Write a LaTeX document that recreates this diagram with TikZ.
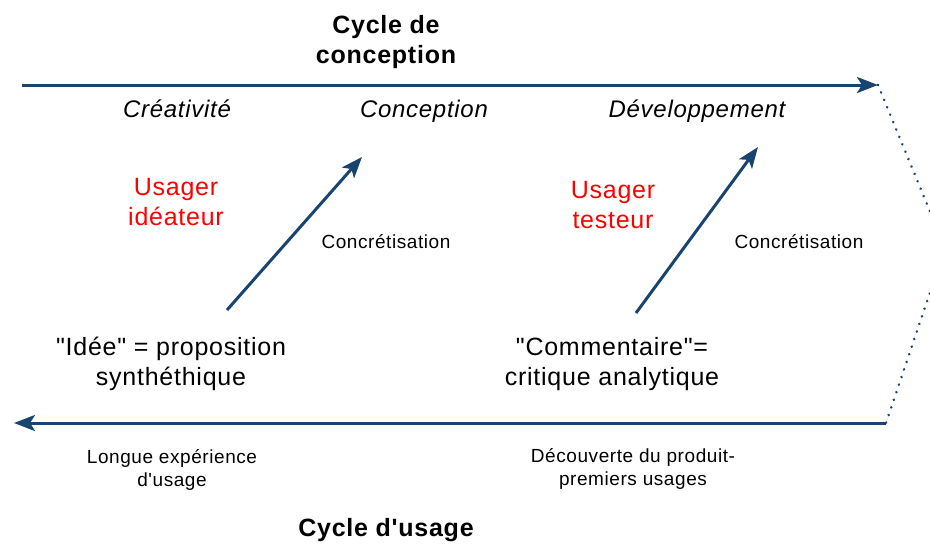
\documentclass[tikz,border=0pt]{standalone}
\usepackage{fontspec}
\setmainfont[LetterSpace=3,Ligatures=TeXOff]{Liberation Sans}
\usetikzlibrary{arrows.meta}
\definecolor{arrowblue}{RGB}{26,68,112}
\definecolor{usred}{RGB}{255,0,0}
\newcommand{\mlines}[1]{\begin{tabular}[t]{@{}c@{}}#1\end{tabular}}
\tikzset{
  flow/.style={line width=3pt, draw=arrowblue, -{Stealth[length=21pt,width=16pt,inset=5pt]}},
  dotline/.style={draw=arrowblue, line width=2.8pt, line cap=round, dash pattern=on 0.01pt off 8pt},
  txt/.style={anchor=base, inner sep=0pt, align=center},
  titletxt/.style={txt, font=\fontsize{25}{30}\selectfont\bfseries},
  phasetxt/.style={txt, font=\fontsize{24}{29}\selectfont\itshape},
  redtxt/.style={txt, text=usred, font=\fontsize{25}{30}\selectfont},
  bigtxt/.style={txt, font=\fontsize{25}{30}\selectfont},
  smalltxt/.style={txt, font=\fontsize{19}{23.5}\selectfont},
}
\begin{document}
\begin{tikzpicture}[x=1pt,y=-1pt]
\useasboundingbox (0,0) rectangle (930,544);
% coordinates
\coordinate (topL) at (22,85);
\coordinate (topR) at (878,85);
\coordinate (botR) at (886,423);
\coordinate (botL) at (14,423);
\coordinate (apex) at (945,248);
\coordinate (a1s) at (227,310);
\coordinate (a1e) at (362,157);
\coordinate (a2s) at (636,313);
\coordinate (a2e) at (758,147);
% main arrows
\draw[flow] (topL) -- (topR);
\draw[flow] (botR) -- (botL);
\begin{scope}
\clip (0,0) rectangle (930,544);
\draw[dotline] (topR) -- (apex) -- (botR);
\end{scope}
\draw[flow] (a1s) -- (a1e);
\draw[flow] (a2s) -- (a2e);
% texts
\node[titletxt] (title) at (386,33) {\mlines{Cycle de\\conception}};
\node[phasetxt] (crea) at (177,117) {Créativité};
\node[phasetxt] (conc) at (424,117) {Conception};
\node[phasetxt] (dev) at (697,117) {Développement};
\node[redtxt] (ideateur) at (176,195) {\mlines{Usager\\idéateur}};
\node[redtxt] (testeur) at (613,198) {\mlines{Usager\\testeur}};
\node[smalltxt] (concr1) at (386,248) {Concrétisation};
\node[smalltxt] (concr2) at (799,248) {Concrétisation};
\node[bigtxt] (idee) at (171,355) {\mlines{"Idée" = proposition\\synthéthique}};
\node[bigtxt] (comm) at (612,355) {\mlines{"Commentaire"=\\critique analytique}};
\node[smalltxt] (longue) at (172,463) {\mlines{Longue expérience\\d'usage}};
\node[smalltxt] (decouv) at (633,462) {\mlines{Découverte du produit-\\premiers usages}};
\node[titletxt] (usage) at (386,536) {Cycle d'usage};
\end{tikzpicture}
\end{document}
